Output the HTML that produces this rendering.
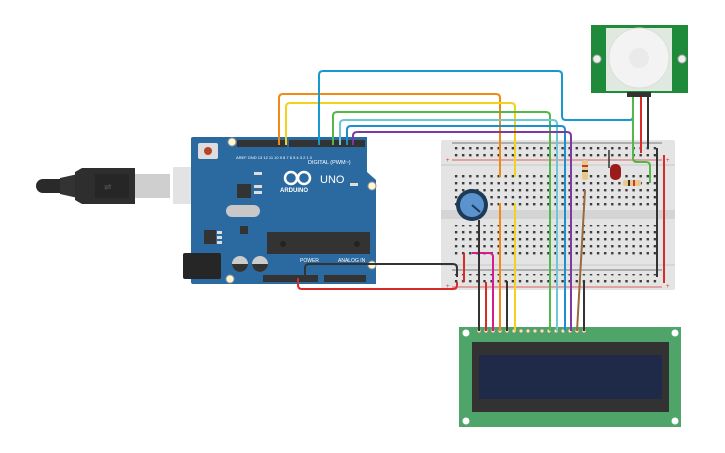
<!DOCTYPE html>
<html><head><meta charset="utf-8"><style>
html,body{margin:0;padding:0;background:#fff;}
svg{display:block;font-family:"Liberation Sans",sans-serif;}
</style></head><body>
<svg width="725" height="453" viewBox="0 0 725 453" xmlns="http://www.w3.org/2000/svg">
<defs>
<pattern id="h" x="454.5" y="0" width="7.1" height="7" patternUnits="userSpaceOnUse">
<rect x="0.4" y="0" width="2.4" height="2.4" fill="#3a3a3a"/>
</pattern>
</defs>

<!-- USB cable -->
<rect x="36" y="179" width="40" height="14" rx="7" fill="#2a2a2a"/>
<path d="M60 178 L78 174 L78 198 L60 194 Z" fill="#333"/>
<path d="M75 172 L82 168 L135 168 L135 204 L82 204 L75 200 Z" fill="#2e2e2e"/>
<rect x="95" y="174" width="34" height="24" fill="#262626"/>
<text x="104" y="190" font-size="9" fill="#555">⇌</text>
<rect x="135" y="174" width="35" height="24" fill="#cfcfcf"/>
<rect x="173" y="167" width="32" height="37" fill="#e3e3e3"/>

<!-- Arduino -->
<path d="M193 137 L367 137 L367 172 L376 180 L376 284 L193 284 Q191 284 191 282 L191 139 Q191 137 193 137 Z" fill="#2b6aa0"/>
<rect x="198" y="143" width="20" height="16" rx="2" fill="#ddd"/>
<circle cx="208" cy="151" r="4" fill="#b5442b"/>
<circle cx="232" cy="142" r="4" fill="#fff7d0" stroke="#999" stroke-width="1"/>
<circle cx="372" cy="186" r="4" fill="#fff7d0" stroke="#999" stroke-width="1"/>
<circle cx="372" cy="265" r="4" fill="#fff7d0" stroke="#999" stroke-width="1"/>
<circle cx="230" cy="279" r="4" fill="#fff7d0" stroke="#999" stroke-width="1"/>
<rect x="237" y="140" width="50" height="7" fill="#333"/>
<rect x="289" y="140" width="76" height="7" fill="#333"/>
<text x="308" y="164" font-size="5.5" fill="#fff">DIGITAL (PWM~)</text>
<text x="236" y="159" font-size="4" fill="#fff">AREF GND 13 12 11 10 9 8   7 6 5 4 3 2 1 0</text>
<circle cx="291" cy="178" r="6" fill="none" stroke="#fff" stroke-width="2.5"/>
<circle cx="304" cy="178" r="6" fill="none" stroke="#fff" stroke-width="2.5"/>
<text x="280" y="192" font-size="6" font-weight="bold" fill="#fff">ARDUINO</text>
<text x="320" y="183" font-size="11" fill="#fff">UNO</text>
<rect x="254" y="172" width="8" height="3" fill="#ddd"/>
<rect x="254" y="185" width="8" height="3" fill="#ddd"/>
<rect x="254" y="191" width="8" height="3" fill="#ddd"/>
<rect x="350" y="183" width="8" height="3" fill="#ddd"/>
<rect x="237" y="184" width="14" height="14" fill="#333"/>
<rect x="226" y="205" width="34" height="12" rx="6" fill="#c8c8c8"/>
<rect x="240" y="226" width="8" height="8" fill="#333"/>
<rect x="204" y="230" width="12" height="14" fill="#333"/>
<rect x="217" y="231" width="5" height="3" fill="#ddd"/><rect x="217" y="236" width="5" height="3" fill="#ddd"/><rect x="217" y="241" width="5" height="3" fill="#ddd"/>
<rect x="183" y="253" width="38" height="26" rx="2" fill="#262626"/>
<circle cx="240" cy="264" r="8" fill="#ccc"/><path d="M232 264 A8 8 0 0 0 248 264 Z" fill="#333"/>
<circle cx="260" cy="264" r="8" fill="#ccc"/><path d="M252 264 A8 8 0 0 0 268 264 Z" fill="#333"/>
<rect x="267" y="232" width="103" height="22" fill="#333"/>
<circle cx="283" cy="244" r="3" fill="#222"/><circle cx="357" cy="244" r="3" fill="#222"/>
<text x="300" y="262" font-size="5" fill="#fff">POWER</text>
<text x="338" y="262" font-size="5" fill="#fff">ANALOG IN</text>
<rect x="263" y="275" width="55" height="7" fill="#333"/>
<rect x="324" y="275" width="42" height="7" fill="#333"/>

<!-- Breadboard -->
<rect x="441" y="140" width="234" height="150" rx="2" fill="#e4e4e4"/>
<rect x="441" y="164" width="234" height="2" fill="#d6d6d6"/>
<rect x="441" y="210" width="234" height="9" fill="#d4d4d4"/>
<rect x="441" y="264" width="234" height="2" fill="#d6d6d6"/>
<line x1="452" y1="143" x2="662" y2="143" stroke="#555" stroke-width="0.8"/>
<line x1="452" y1="160" x2="662" y2="160" stroke="#d33" stroke-width="0.8"/>
<line x1="452" y1="270" x2="662" y2="270" stroke="#555" stroke-width="0.8"/>
<line x1="452" y1="287" x2="662" y2="287" stroke="#d33" stroke-width="0.8"/>
<rect x="454" y="147" width="206" height="10" fill="url(#h)"/>
<rect x="454" y="175" width="206" height="33" fill="url(#h)"/>
<rect x="454" y="225" width="206" height="33" fill="url(#h)"/>
<rect x="454" y="274" width="206" height="10" fill="url(#h)"/>
<text x="446" y="162" font-size="6" fill="#d33">+</text>
<text x="666" y="162" font-size="6" fill="#d33">+</text>
<text x="446" y="288" font-size="6" fill="#d33">+</text>
<text x="666" y="288" font-size="6" fill="#d33">+</text>

<!-- PIR -->
<rect x="591" y="25" width="97" height="68" fill="#1f8a3a"/>
<rect x="606" y="28" width="66" height="63" fill="#dfe9df"/>
<circle cx="639" cy="58" r="30" fill="#f3f3f3" stroke="#ddd"/>
<circle cx="639" cy="58" r="10" fill="#eaeaea"/>
<circle cx="597" cy="59" r="4" fill="#eee" stroke="#aaa"/>
<circle cx="682" cy="59" r="4" fill="#eee" stroke="#aaa"/>
<rect x="627" y="92" width="24" height="5" fill="#333"/>

<!-- LCD -->
<rect x="459" y="327" width="222" height="100" fill="#4fa46a"/>
<circle cx="466" cy="333" r="3.5" fill="#fff"/><circle cx="675" cy="333" r="3.5" fill="#fff"/>
<circle cx="466" cy="421" r="3.5" fill="#fff"/><circle cx="675" cy="421" r="3.5" fill="#fff"/>
<rect x="472" y="342" width="197" height="70" fill="#323232"/>
<rect x="479" y="355" width="183" height="44" fill="#1e2a47"/>
<g fill="#f4e6b0" stroke="#777" stroke-width="0.5">
<circle cx="479" cy="331" r="2"/><circle cx="486" cy="331" r="2"/><circle cx="493" cy="331" r="2"/><circle cx="500" cy="331" r="2"/><circle cx="507" cy="331" r="2"/><circle cx="514" cy="331" r="2"/><circle cx="521" cy="331" r="2"/><circle cx="528" cy="331" r="2"/><circle cx="535" cy="331" r="2"/><circle cx="542" cy="331" r="2"/><circle cx="549" cy="331" r="2"/><circle cx="556" cy="331" r="2"/><circle cx="563" cy="331" r="2"/><circle cx="570" cy="331" r="2"/><circle cx="577" cy="331" r="2"/><circle cx="584" cy="331" r="2"/>
</g>

<!-- components on breadboard -->
<circle cx="472" cy="205" r="16" fill="#1e3a55"/>
<circle cx="472" cy="205" r="12" fill="#5b93cf"/>
<line x1="472" y1="205" x2="480" y2="212" stroke="#1e3a55" stroke-width="2"/>
<rect x="582" y="160" width="6" height="20" rx="2" fill="#e8c98a"/>
<rect x="582" y="165" width="6" height="2" fill="#c33"/><rect x="582" y="170" width="6" height="2" fill="#333"/>
<line x1="609" y1="150" x2="609" y2="168" stroke="#333" stroke-width="1.5"/>
<rect x="610" y="164" width="11" height="16" rx="5" fill="#9b1a1a"/>
<rect x="623" y="180" width="18" height="6" rx="2" fill="#e8c98a"/>
<rect x="628" y="180" width="2" height="6" fill="#333"/><rect x="633" y="180" width="2" height="6" fill="#c33"/>

<!-- wires -->
<g fill="none" stroke-width="2" stroke-linejoin="round">
<path d="M279 145 V98 Q279 94 283 94 H496 Q500 94 500 98 V177 M500 203 V331" stroke="#f08a12"/>
<path d="M286 145 V107 Q286 103 290 103 H511 Q515 103 515 107 V177 M515 203 V331" stroke="#f2d31a"/>
<path d="M319 145 V75 Q319 71 323 71 H558 Q562 71 562 75 V116 Q562 120 566 120 H630 Q633 120 633 116 V97" stroke="#1599cf"/>
<path d="M333 145 V116 Q333 112 337 112 H546 Q550 112 550 116 V331" stroke="#52b848"/>
<path d="M340 145 V124 Q340 120 344 120 H553 Q557 120 557 124 V331" stroke="#6cc7d6"/>
<path d="M347 145 V130 Q347 126 351 126 H561 Q565 126 565 130 V331" stroke="#1d8fd0"/>
<path d="M353 145 V136 Q353 132 357 132 H567 Q571 132 571 136 V331" stroke="#7d3aa0"/>
<path d="M633 97 V158 Q633 162 637 162 H646 Q650 162 650 166 V183" stroke="#52b848"/>
<path d="M641 97 V153" stroke="#d92a2a"/>
<path d="M648 97 V148" stroke="#333"/>
<path d="M657 148 V277" stroke="#333"/>
<path d="M664 155 V283" stroke="#d92a2a"/>
<path d="M305 280 V268 Q305 264 309 264 H453 Q457 264 457 268 V277" stroke="#333"/>
<path d="M298 278 V285 Q298 289 302 289 H453 Q457 289 457 285 V282" stroke="#d92a2a"/>
<path d="M464 253 V282" stroke="#d92a2a"/>
<path d="M472 253 H489 Q493 253 493 257 V331" stroke="#d61c8c"/>
<path d="M479 220 V331" stroke="#333"/>
<path d="M486 282 V331" stroke="#d92a2a"/>
<path d="M507 281 V331" stroke="#333"/>
<path d="M585 190 L577 331" stroke="#9a6a3c"/>
<path d="M584 281 V331" stroke="#333"/>
</g>
</svg>
</body></html>
